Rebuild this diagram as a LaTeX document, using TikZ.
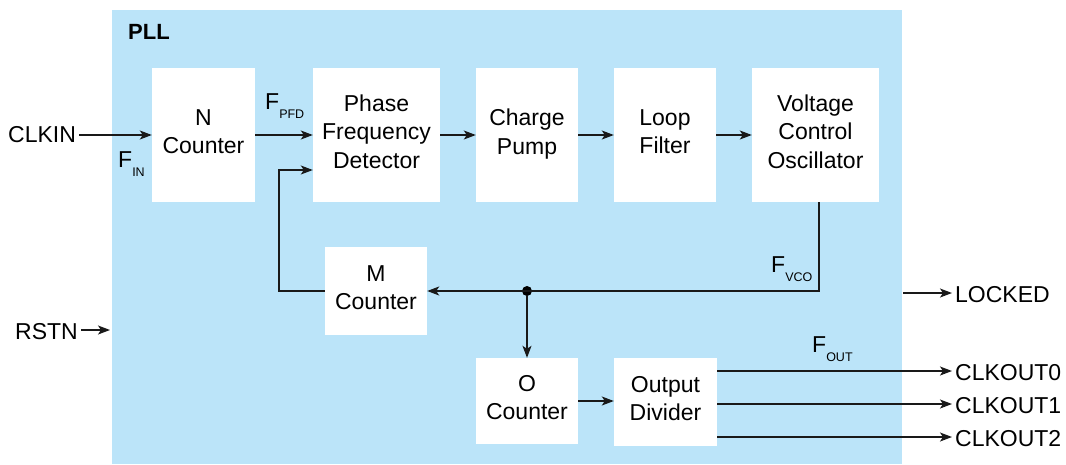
\documentclass[tikz,border=0pt]{standalone}
\usepackage{fontspec}
\setmainfont{Liberation Sans}
\usetikzlibrary{arrows.meta,positioning,calc}
\definecolor{pllblue}{RGB}{187,228,249}
\definecolor{wirecol}{RGB}{25,25,25}
\newcommand{\fsub}[1]{F\raisebox{-9pt}{\fontsize{12.5}{12.5}\selectfont #1}}

\begin{document}
\begin{tikzpicture}[
    x=1pt, y=-1pt,
    every node/.style={font=\fontsize{23}{28.5}\selectfont},
    >={Stealth[length=12pt,width=9pt,inset=3pt]},
    block/.style={fill=white, inner sep=0pt, align=center, text depth=7pt},
    wire/.style={draw=wirecol, line width=1.3pt},
    pin/.style={inner sep=3pt, anchor=base west}
]
\useasboundingbox (0,0) rectangle (1066,464);

% PLL area
\node[fill=pllblue, inner sep=0pt, minimum width=790pt, minimum height=454pt, anchor=north west] (pll) at (112,10) {};
\node[font=\fontsize{22}{24}\selectfont\bfseries, inner sep=0pt, anchor=base west] (plltitle) at (128,39) {PLL};

% Forward path
\node[block, minimum width=103pt, minimum height=134pt] (ncnt) at (203.5,135) {N\\Counter};
\node[block, minimum width=127pt, minimum height=134pt] (pfd) at (376.5,135) {Phase\\Frequency\\Detector};
\node[block, minimum width=102pt, minimum height=134pt] (cp) at (527,135) {Charge\\Pump};
\node[block, minimum width=102pt, minimum height=134pt] (lf) at (665,135) {Loop\\Filter};
\node[block, minimum width=127pt, minimum height=134pt] (vco) at (815.5,135) {Voltage\\Control\\Oscillator};

% Feedback and output counters
\node[block, minimum width=102pt, minimum height=88pt] (mcnt) at (376,291) {M\\Counter};
\node[block, minimum width=102pt, minimum height=86pt] (ocnt) at (527,401) {O\\Counter};
\node[block, minimum width=103pt, minimum height=88pt] (odiv) at (665.5,402) {Output\\Divider};

% External pins
\node[pin] (clkin) at (5,142) {CLKIN};
\node[pin] (rstn) at (12,339) {RSTN};
\node[pin] (locked) at (952,302) {LOCKED};
\node[pin] (clkout0) at (952,380) {CLKOUT0};
\node[pin] (clkout1) at (952,413) {CLKOUT1};
\node[pin] (clkout2) at (952,446) {CLKOUT2};

% Frequency labels
\node[inner sep=0pt, anchor=base west] (fin) at (118,167) {\fsub{IN}};
\node[inner sep=0pt, anchor=base west] (fpfd) at (265,109) {\fsub{PFD}};
\node[inner sep=0pt, anchor=base west] (fvco) at (771,272) {\fsub{VCO}};
\node[inner sep=0pt, anchor=base west] (fout) at (812,352) {\fsub{OUT}};

% Connectors
\coordinate (fbturn) at (279,170);
\coordinate (rstnin) at (110,330);
\coordinate (lockedout) at (903,293);
\node[circle, fill=black, inner sep=0pt, minimum size=10pt] (tap) at (527,291) {};

\draw[wire, ->] (clkin.east |- ncnt) -- (ncnt.west);
\draw[wire, ->] (ncnt) -- (pfd);
\draw[wire, ->] (pfd) -- (cp);
\draw[wire, ->] (cp) -- (lf);
\draw[wire, ->] (lf) -- (vco);
\draw[wire, ->] ($(vco.south)+(3.5,0)$) |- (mcnt.east);
\draw[wire, ->] (mcnt.west) -| (fbturn) -- (fbturn -| pfd.west);
\draw[wire, ->] (tap) -- (ocnt.north);
\draw[wire, ->] (ocnt) -- (odiv.west |- ocnt);
\draw[wire, ->] (odiv.east |- 0,371) -- (clkout0.west |- 0,371);
\draw[wire, ->] (odiv.east |- 0,404) -- (clkout1.west |- 0,404);
\draw[wire, ->] (odiv.east |- 0,437) -- (clkout2.west |- 0,437);
\draw[wire, ->] (lockedout) -- (locked.west |- lockedout);
\draw[wire, ->] (rstn.east |- rstnin) -- (rstnin);
\end{tikzpicture}
\end{document}
